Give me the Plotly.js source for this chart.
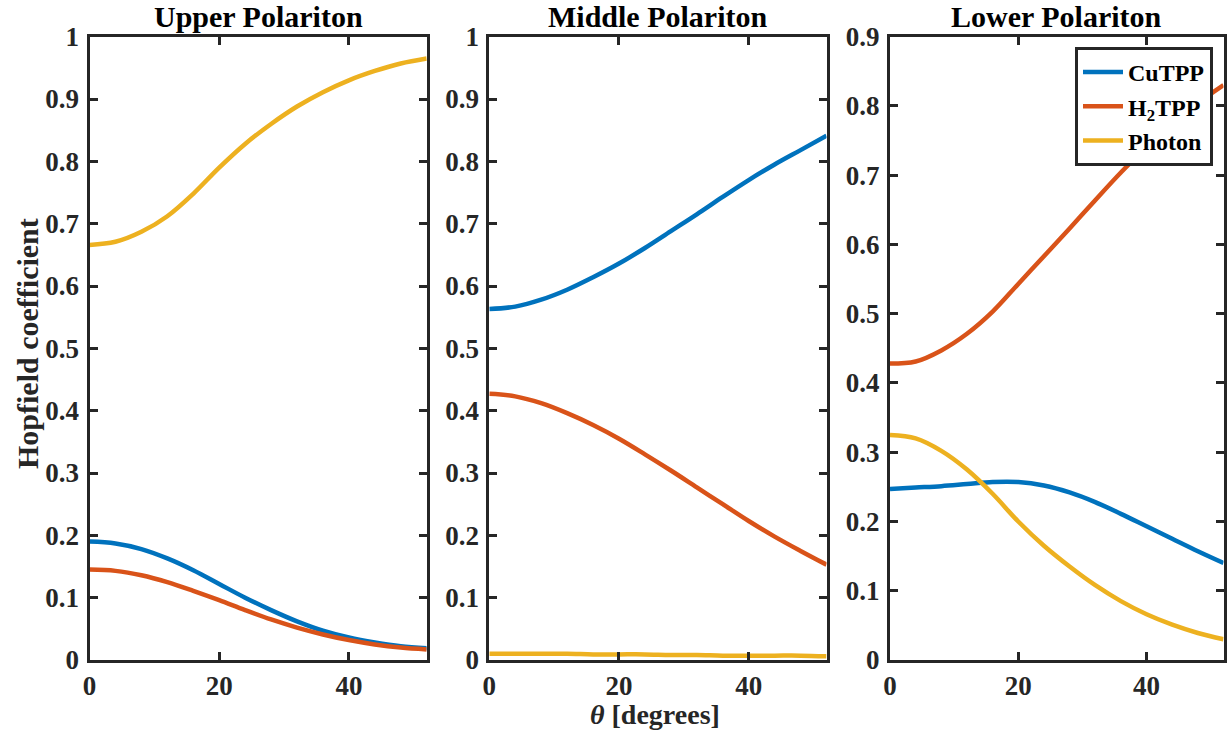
<!DOCTYPE html>
<html>
<head>
<meta charset="utf-8">
<script src="https://cdn.plot.ly/plotly-3.0.1.min.js"></script>
<style>html,body{margin:0;padding:0;background:#fff;}#chart{width:1230px;height:731px;}</style>
</head>
<body>
<div id="chart"></div>
<script>
// Shared angle samples (degrees)
const theta = [0, 4, 8, 12, 16, 20, 24, 28, 32, 36, 40, 44, 48, 52];

// Upper polariton
const upperCuTPP  = [0.190, 0.187, 0.178, 0.163, 0.144, 0.122, 0.100, 0.080, 0.062, 0.047, 0.036, 0.028, 0.022, 0.019];
const upperH2TPP  = [0.145, 0.143, 0.136, 0.125, 0.111, 0.096, 0.080, 0.065, 0.052, 0.041, 0.032, 0.025, 0.020, 0.017];
const upperPhoton = [0.666, 0.671, 0.687, 0.712, 0.748, 0.790, 0.828, 0.860, 0.888, 0.911, 0.930, 0.945, 0.957, 0.965];

// Middle polariton
const middleCuTPP  = [0.563, 0.567, 0.578, 0.594, 0.614, 0.636, 0.661, 0.688, 0.715, 0.743, 0.770, 0.795, 0.818, 0.841];
const middleH2TPP  = [0.427, 0.423, 0.412, 0.396, 0.377, 0.355, 0.330, 0.304, 0.277, 0.250, 0.223, 0.198, 0.175, 0.153];
const middlePhoton = [0.010, 0.010, 0.010, 0.010, 0.009, 0.009, 0.009, 0.008, 0.008, 0.007, 0.007, 0.007, 0.007, 0.006];

// Lower polariton
const lowerCuTPP  = [0.247, 0.249, 0.251, 0.254, 0.257, 0.257, 0.252, 0.242, 0.228, 0.211, 0.193, 0.175, 0.157, 0.140];
const lowerH2TPP  = [0.428, 0.431, 0.447, 0.471, 0.503, 0.543, 0.583, 0.623, 0.664, 0.704, 0.741, 0.774, 0.804, 0.830];
const lowerPhoton = [0.325, 0.320, 0.302, 0.275, 0.240, 0.200, 0.165, 0.135, 0.108, 0.085, 0.066, 0.051, 0.039, 0.030];

const seriesNames = ['CuTPP', 'H<sub>2</sub>TPP', 'Photon'];
const colors = ['#0072BD', '#D95319', '#EDB120'];
const panelTitles = ['Upper Polariton', 'Middle Polariton', 'Lower Polariton'];

const panels = [
  [upperCuTPP, upperH2TPP, upperPhoton],
  [middleCuTPP, middleH2TPP, middlePhoton],
  [lowerCuTPP, lowerH2TPP, lowerPhoton]
];

const traces = [];
panels.forEach((p, pi) => {
  p.forEach((ys, si) => {
    traces.push({
      x: theta, y: ys, type: 'scatter', mode: 'lines',
      name: seriesNames[si],
      line: {color: colors[si], width: 4.5, shape: 'spline', smoothing: 1},
      xaxis: pi === 0 ? 'x' : 'x' + (pi + 1),
      yaxis: pi === 0 ? 'y' : 'y' + (pi + 1),
      showlegend: pi === 2,
      legendrank: si
    });
  });
});

const W = 1230, H = 731;
const xd = [[89.5, 426.7], [489.3, 826.5], [890, 1223.5]];
const yDom = [1 - 660 / H, 1 - 36.7 / H];
const fontBase = {family: 'Liberation Serif, Times New Roman, serif', size: 27, color: '#262626', weight: 'bold'};

function xa(i) {
  return {
    domain: [xd[i][0] / W, xd[i][1] / W], range: [0, 52], anchor: i === 0 ? 'y' : 'y' + (i + 1),
    tickvals: [0, 20, 40], ticks: 'inside', ticklen: 8, tickwidth: 3, tickcolor: '#262626',
    showline: true, linewidth: 3, linecolor: '#262626', mirror: 'ticks',
    showgrid: false, zeroline: false, ticklabelstandoff: 0, tickfont: fontBase
  };
}
function ya(i, maxv) {
  return {
    domain: yDom, range: [0, maxv], anchor: i === 0 ? 'x' : 'x' + (i + 1),
    dtick: 0.1, tick0: 0, ticks: 'inside', ticklen: 8, tickwidth: 3, tickcolor: '#262626',
    showline: true, linewidth: 3, linecolor: '#262626', mirror: 'ticks',
    showgrid: false, zeroline: false, ticklabelstandoff: 2, tickfont: fontBase
  };
}

const annotations = panelTitles.map((t, i) => ({
  text: t, xref: 'paper', yref: 'paper', x: (xd[i][0] + xd[i][1]) / 2 / W, y: 1 - 16 / H,
  xanchor: 'center', yanchor: 'middle', showarrow: false,
  font: Object.assign({}, fontBase, {size: 30, color: '#000'})
}));
annotations.push({
  text: 'Hopfield coefficient', xref: 'paper', yref: 'paper', x: 27 / W, y: 1 - 344 / H,
  xanchor: 'center', yanchor: 'middle', textangle: -90, showarrow: false,
  font: Object.assign({}, fontBase, {size: 30})
});
annotations.push({
  text: '<i>θ</i> [degrees]', xref: 'paper', yref: 'paper', x: 655 / W, y: 1 - 714 / H,
  xanchor: 'center', yanchor: 'middle', showarrow: false, borderpad: 0,
  font: Object.assign({}, fontBase, {size: 28})
});

const layout = {
  width: W, height: H, margin: {l: 0, r: 0, t: 0, b: 0},
  paper_bgcolor: '#fff', plot_bgcolor: '#fff', font: fontBase,
  xaxis: xa(0), xaxis2: xa(1), xaxis3: xa(2),
  yaxis: ya(0, 1), yaxis2: ya(1, 1), yaxis3: ya(2, 0.9),
  annotations: annotations,
  legend: {
    x: 1075 / W, y: 1 - 47 / H, xanchor: 'left', yanchor: 'top',
    bgcolor: '#fff', bordercolor: '#262626', borderwidth: 3,
    font: Object.assign({}, fontBase, {size: 24, color: '#000'}),
    tracegroupgap: 0, itemwidth: 40
  },
  showlegend: true
};

Plotly.newPlot('chart', traces, layout, {displayModeBar: false, staticPlot: true});
</script>
</body>
</html>
